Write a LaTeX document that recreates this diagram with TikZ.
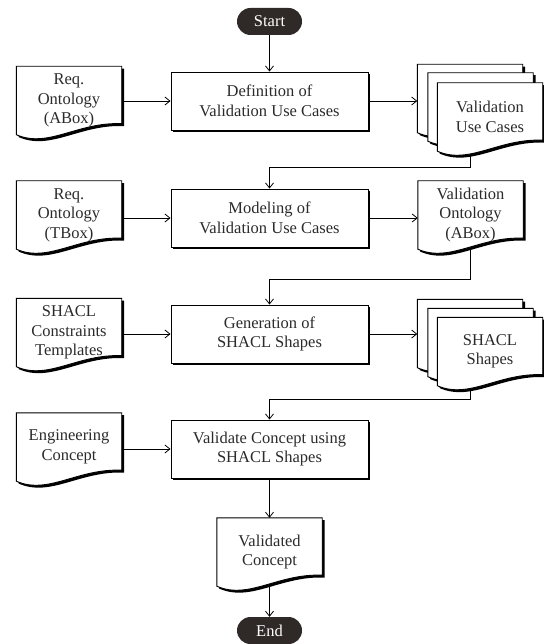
\documentclass[tikz,border=0pt]{standalone}
\usepackage{fontspec}
\setmainfont{Liberation Serif}
\usetikzlibrary{arrows.meta,shadows,calc}
\pgfdeclarelayer{bg}
\pgfsetlayers{bg,main}
\definecolor{pill}{HTML}{2F2A28}
\definecolor{txt}{HTML}{2B2B2B}
\newcommand{\docshape}[1]{%
 \fill[black, transform canvas={shift={(2.4pt,-2.4pt)}}] (#1.north west) -- (#1.north east) -- ([yshift=11pt]#1.south east) .. controls ([xshift=-44pt,yshift=13pt]#1.south east) and ([xshift=32pt,yshift=-14pt]#1.south west) .. (#1.south west) -- cycle;
 \filldraw[fill=white, draw=black, line width=0.9pt] (#1.north west) -- (#1.north east) -- ([yshift=11pt]#1.south east) .. controls ([xshift=-44pt,yshift=13pt]#1.south east) and ([xshift=32pt,yshift=-14pt]#1.south west) .. (#1.south west) -- cycle;
}
\begin{document}
\begin{tikzpicture}[x=1pt,y=-1pt,
  font=\fontsize{16.5}{19.5}\selectfont,
  every node/.style={text=txt, align=center, inner sep=0pt},
  proc/.style={draw=black, line width=0.9pt, fill=white, minimum width=197pt, minimum height=58pt,
     drop shadow={shadow xshift=2.4pt, shadow yshift=-2.4pt, opacity=1, fill=black}},
  term/.style={fill=pill, rounded corners=13.5pt, minimum width=65pt, minimum height=27pt, text=white},
  docbox/.style={minimum width=105pt, minimum height=68pt},
  conn/.style={draw=black, line width=0.8pt, -{Straight Barb[length=5pt,width=8pt]}},
]
\useasboundingbox (0,0) rectangle (543,644);

% nodes
\node[term] (start) at (269.5,21.5) {Start};
\node[proc] (b1) at (269.5,101) {Definition of\\Validation Use Cases};
\node[docbox] (d1) at (69,100.5) {Req.\\Ontology\\(ABox)};
\node[docbox] (m1c) at (470,98.5) {};
\node[docbox] (m1b) at (480.5,107) {};
\node[docbox] (m1a) at (490,117) {Validation\\Use Cases};

\node[proc] (b2) at (269.5,218) {Modeling of\\Validation Use Cases};
\node[docbox] (d2) at (69,215) {Req.\\Ontology\\(TBox)};
\node[docbox] (vo) at (470.5,215) {Validation\\Ontology\\(ABox)};

\node[proc] (b3) at (269.5,334) {Generation of\\SHACL Shapes};
\node[docbox] (d3) at (69,332.5) {SHACL\\Constraints\\Templates};
\node[docbox] (m2c) at (470,333.5) {};
\node[docbox] (m2b) at (480.5,342.5) {};
\node[docbox] (m2a) at (490,351.5) {SHACL\\Shapes};

\node[proc] (b4) at (269.5,449) {Validate Concept using\\SHACL Shapes};
\node[docbox] (d4) at (69,447) {Engineering\\Concept};
\node[docbox] (vc) at (269.5,552) {Validated\\Concept};
\node[term] (end) at (269.5,630.5) {End};

\coordinate (j1) at (269.5,167);
\coordinate (j2) at (269.5,279);
\coordinate (j3) at (269.5,399);

% document shapes behind the texts
\begin{pgfonlayer}{bg}
\docshape{d1}
\docshape{m1c}
\docshape{m1b}
\docshape{m1a}
\docshape{d2}
\docshape{vo}
\docshape{d3}
\docshape{m2c}
\docshape{m2b}
\docshape{m2a}
\docshape{d4}
\docshape{vc}
\end{pgfonlayer}

% connectors
\draw[conn] (start) -- (b1);
\draw[conn] (b1.west -| d1.east) -- (b1.west);
\draw[conn] (b1.east) -- (b1.east -| m1c.west);
\draw[conn] ([xshift=-20pt,yshift=-3pt]m1a.south) |- (j1) -- (b2.north);

\draw[conn] (b2.west -| d2.east) -- (b2.west);
\draw[conn] (b2.east) -- (b2.east -| vo.west);
\draw[conn] (vo.south) |- (j2) -- (b3.north);

\draw[conn] (b3.west -| d3.east) -- (b3.west);
\draw[conn] (b3.east) -- (b3.east -| m2c.west);
\draw[conn] ([xshift=-20pt,yshift=-3pt]m2a.south) |- (j3) -- (b4.north);

\draw[conn] (b4.west -| d4.east) -- (b4.west);
\draw[conn] (b4) -- (vc);
\draw[conn] (vc.south) -- (end);
\end{tikzpicture}
\end{document}
